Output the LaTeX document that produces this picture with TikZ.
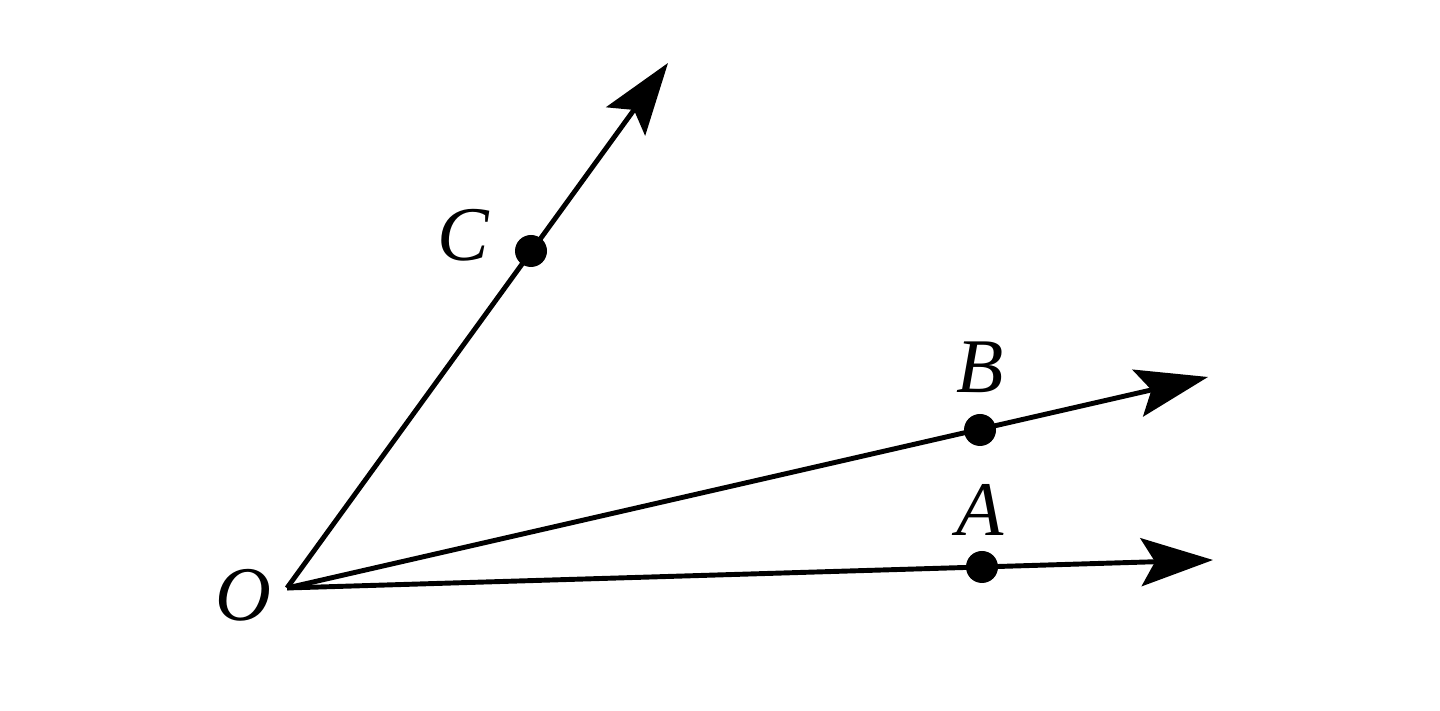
\documentclass[tikz,border=0pt]{standalone}
\usepackage{fontspec}
\setmainfont{Liberation Serif}
\usetikzlibrary{arrows.meta}
\tikzset{ray/.style={line width=1.4pt,-{Stealth[length=7.2mm,width=4.8mm,inset=1.4mm]}}}
\tikzset{pt/.style={circle,fill=black,inner sep=0pt,minimum size=3.2mm}}
\tikzset{lbl/.style={font=\fontsize{22}{26}\selectfont\itshape,inner sep=0pt}}

\begin{document}
\begin{tikzpicture}[scale=1.0]

    \useasboundingbox (0,0) rectangle (14.4,7.11);

    \coordinate (o) at (2.87,1.23);
    \coordinate (ea) at (12.13,1.51);
    \coordinate (eb) at (12.08,3.34);
    \coordinate (ec) at (6.68,6.48);

    \node[pt] (a) at (9.82,1.44){};
    \node[pt] (b) at (9.80,2.81){};
    \node[pt] (c) at (5.31,4.60){};

    \draw[ray] (o) -- (ea);
    \draw[ray] (o) -- (eb);
    \draw[ray] (o) -- (ec);

    \node[lbl] (lo) at (2.43,1.16){O};
    \node[lbl] (la) at (9.80,2.01){A};
    \node[lbl] (lb) at (9.80,3.44){B};
    \node[lbl] (lc) at (4.63,4.76){C};

\end{tikzpicture}
\end{document}
